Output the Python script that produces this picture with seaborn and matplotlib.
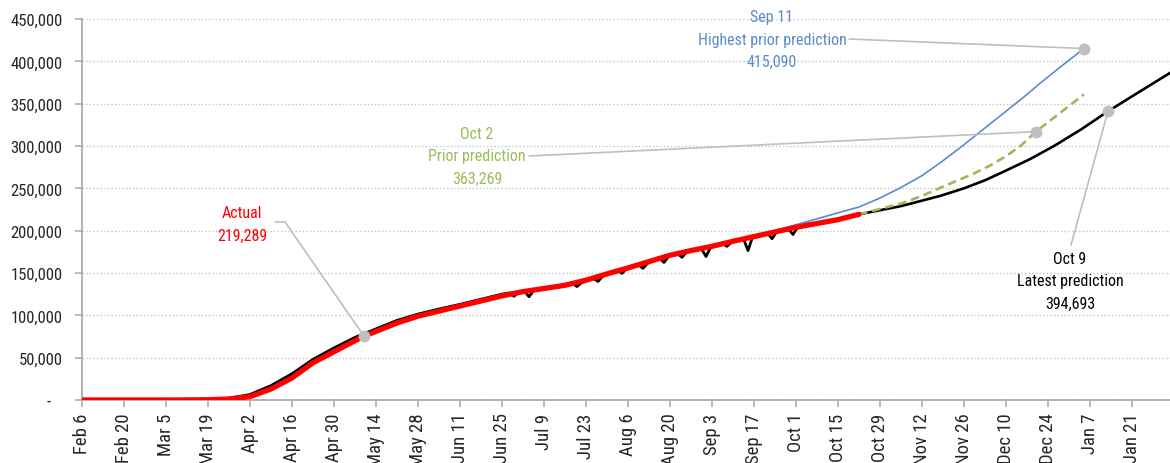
import pandas as pd
import matplotlib.pyplot as plt
import matplotlib.dates as mdates
import seaborn as sns
from matplotlib.ticker import FuncFormatter

start = pd.Timestamp('2020-02-06')

# actual deaths (red, smoothed) - days after Feb 6, thousands
actual_days = [0, 7, 14, 21, 28, 35, 42, 49, 56, 63, 70, 77, 84, 91, 94, 98, 105, 112,
               119, 126, 133, 140, 147, 154, 161, 168, 175, 182, 189, 196, 203, 210,
               217, 224, 231, 238, 245, 252, 259]
actual_vals = [0, 0, 0, 0, 0, 0.1, 0.3, 1.2, 4, 13, 26, 44, 57, 70, 75.5, 81, 91, 99,
               105, 111, 117, 123, 128, 131.7, 135.5, 141.5, 149, 156, 163.5, 171, 176.5,
               181.5, 187.5, 193, 198.5, 204, 208.5, 213, 219.3]

# reported series (black) with the weekly reporting dips
reported_days = [0, 7, 14, 21, 28, 35, 42, 49, 56, 63, 70, 77, 84, 91, 98, 105, 112, 119,
                 126, 133, 140, 142.5, 144, 145.5, 147.5, 149, 150.5, 154, 158, 163.5, 165, 166.5,
                 170.5, 172, 173.5, 178.5, 180, 181.5, 185.5, 187, 188.5, 192.5, 194, 195.5,
                 198.5, 200, 201.5, 206.5, 208, 209.5, 213.5, 215, 216.5, 220.5, 222, 223.5,
                 228.5, 230, 231.5, 235.5, 237, 238.5, 245, 252, 259]
reported_vals = [0, 0, 0, 0, 0, 0.1, 0.5, 2, 6.5, 17, 31, 48, 61.5, 74, 84, 94, 101.5, 107.5,
                 113, 119, 125, 126.5, 122.5, 127, 128.5, 122, 129, 131.7, 134, 137.5, 134, 138.5,
                 143.5, 140, 146, 153, 149.5, 155.5, 159.5, 155.5, 161.5, 167.5, 162.5, 169.5,
                 173, 168.5, 175, 178.5, 169.5, 180, 184.5, 181.5, 186.5, 190.5, 176.5, 192.5,
                 197, 190.5, 198.5, 202, 195.5, 204, 208.5, 213, 219.3]

# projections
oct9_days = [259, 273, 286, 294, 301, 308, 316, 324, 333, 342, 352, 363]
oct9_vals = [219.3, 229, 241, 250, 259.5, 271, 284.5, 300, 319.5, 341, 363, 387]

sep11_days = [224, 239, 259, 266, 273, 280, 286, 292, 297, 303, 308, 314, 319, 326, 334]
sep11_vals = [193, 208, 228, 238.5, 251, 265, 280, 296, 310, 327, 341, 358, 373, 393, 415.1]

oct2_days = [259, 273, 280, 286, 292, 297, 303, 308, 313, 318, 326, 334]
oct2_vals = [219.3, 232, 241, 250.5, 259.5, 267, 277.5, 288, 300.5, 317, 339, 361]

tick_days = list(range(0, 351, 14))
tick_labels = ['Feb 6', 'Feb 20', 'Mar 5', 'Mar 19', 'Apr 2', 'Apr 16', 'Apr 30', 'May 14',
               'May 28', 'Jun 11', 'Jun 25', 'Jul 9', 'Jul 23', 'Aug 6', 'Aug 20', 'Sep 3',
               'Sep 17', 'Oct 1', 'Oct 15', 'Oct 29', 'Nov 12', 'Nov 26', 'Dec 10', 'Dec 24',
               'Jan 7', 'Jan 21']


def to_dates(days):
    return start + pd.to_timedelta(days, unit='D')


BLUE = '#5b8bcb'
GREEN = '#9bbb59'
GREY = '#bfbfbf'

sns.set_style('white')
plt.rcParams['font.family'] = ['Roboto Condensed', 'DejaVu Sans']

fig = plt.figure(figsize=(11.7, 4.64), dpi=100)
ax = fig.add_axes([82 / 1170, 63 / 464, 1 - 82 / 1170, 381 / 464])

sns.lineplot(x=to_dates(reported_days), y=reported_vals, ax=ax, color='black', lw=2.0, zorder=3)
sns.lineplot(x=to_dates(oct9_days), y=oct9_vals, ax=ax, color='black', lw=1.9, zorder=3)
sns.lineplot(x=to_dates(sep11_days), y=sep11_vals, ax=ax, color=BLUE, lw=1.2, zorder=3)
sns.lineplot(x=to_dates(oct2_days), y=oct2_vals, ax=ax, color=GREEN, lw=1.9,
             linestyle=(0, (3.3, 1.8)), zorder=3)
sns.lineplot(x=to_dates(actual_days), y=actual_vals, ax=ax, color='#ff0000', lw=3.8, zorder=4)
for line in ax.lines:
    line.set_solid_joinstyle('round')

ax.set_xlim(start, start + pd.Timedelta(days=362.67))
ax.set_ylim(0, 450)
ax.set_xticks(to_dates(tick_days))
ax.set_xticklabels(tick_labels, rotation=90)
ax.set_yticks(range(0, 451, 50))
ax.yaxis.set_major_formatter(FuncFormatter(lambda v, p: f'{int(v * 1000):,}' if v else '-   '))
ax.set_xlabel('')
ax.set_ylabel('')

ax.yaxis.grid(True, linestyle=(0, (1, 1.6)), color='#c4c4c4', lw=1)
ax.set_axisbelow(True)
for s in ['top', 'right']:
    ax.spines[s].set_visible(False)
for s in ['left', 'bottom']:
    ax.spines[s].set_color('#a6a6a6')
    ax.spines[s].set_linewidth(1.2)
ax.tick_params(axis='x', bottom=True, length=5, width=1.1, color='#a6a6a6', pad=4,
               labelsize=13.5, labelcolor='#262626')
ax.tick_params(axis='y', left=True, length=5, width=1.1, color='#a6a6a6', pad=9,
               labelsize=12, labelcolor='#262626')

# annotation dots, taken from the series
dots = [
    (actual_days[14], actual_vals[14], (275, 223), (285, 223)),
    (sep11_days[-1], sep11_vals[-1], None, (849, 40)),
    (oct2_days[9], oct2_vals[9], None, (529, 157)),
    (oct9_days[9], oct9_vals[9], None, (1071, 246)),
]
for d, v, pre, lead in dots:
    xd = mdates.date2num(to_dates([d])[0])
    if pre is not None:
        ax.annotate('', xy=(lead[0], 464 - lead[1]), xycoords='figure pixels',
                    xytext=(pre[0], 464 - pre[1]), textcoords='figure pixels',
                    arrowprops=dict(arrowstyle='-', color=GREY, lw=1.2, shrinkA=0, shrinkB=0))
    ax.annotate('', xy=(xd, v), xycoords='data',
                xytext=(lead[0], 464 - lead[1]), textcoords='figure pixels',
                arrowprops=dict(arrowstyle='-', color=GREY, lw=1.2, shrinkA=0, shrinkB=0),
                zorder=5)
    ax.plot([xd], [v], 'o', color=GREY, ms=7.5, zorder=6, clip_on=False)

labels = [
    ('Actual\n219,289', 242, 225, '#ff0000'),
    ('Sep 11\nHighest prior prediction\n415,090', 772, 40, BLUE),
    ('Oct 2\nPrior prediction\n363,269', 477, 157, GREEN),
    ('Oct 9\nLatest prediction\n394,693', 1070, 282, 'black'),
]
for txt, px, py, col in labels:
    fig.text(px / 1170, 1 - py / 464, txt, ha='center', va='center', fontsize=11.5,
             color=col, linespacing=1.6)

fig.savefig('out.png', dpi=100)
